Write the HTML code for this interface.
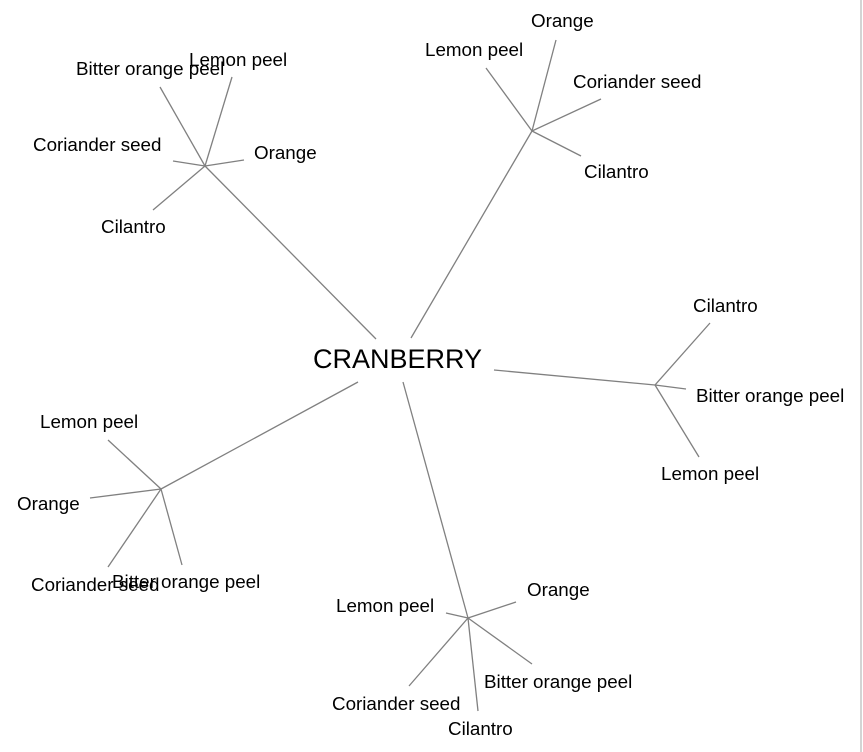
<!DOCTYPE html>
<html><head><meta charset="utf-8"><style>
html,body{margin:0;padding:0;background:#fff;}
svg{display:block;}
text{font-family:"Liberation Sans",Arial,sans-serif;font-size:18.8px;fill:#000;}
line{stroke:#808080;stroke-width:1.3;}
</style></head><body>
<svg width="863" height="752" viewBox="0 0 863 752">
<line x1="861" y1="0" x2="861" y2="752" style="stroke:#aaa;stroke-width:1"/>
<line x1="205" y1="166" x2="376" y2="339"/>
<line x1="205" y1="166" x2="160" y2="87"/>
<line x1="205" y1="166" x2="232" y2="77"/>
<line x1="205" y1="166" x2="244" y2="160"/>
<line x1="205" y1="166" x2="173" y2="161"/>
<line x1="205" y1="166" x2="153" y2="210"/>
<line x1="532" y1="131" x2="411" y2="338"/>
<line x1="532" y1="131" x2="486" y2="68"/>
<line x1="532" y1="131" x2="556" y2="40"/>
<line x1="532" y1="131" x2="601" y2="99"/>
<line x1="532" y1="131" x2="581" y2="156"/>
<line x1="655" y1="385" x2="494" y2="370"/>
<line x1="655" y1="385" x2="710" y2="323"/>
<line x1="655" y1="385" x2="686" y2="389"/>
<line x1="655" y1="385" x2="699" y2="457"/>
<line x1="161" y1="489" x2="358" y2="382"/>
<line x1="161" y1="489" x2="108" y2="440"/>
<line x1="161" y1="489" x2="90" y2="498"/>
<line x1="161" y1="489" x2="108" y2="567"/>
<line x1="161" y1="489" x2="182" y2="565"/>
<line x1="468" y1="618" x2="403" y2="382"/>
<line x1="468" y1="618" x2="516" y2="602"/>
<line x1="468" y1="618" x2="446" y2="613"/>
<line x1="468" y1="618" x2="532" y2="664"/>
<line x1="468" y1="618" x2="409" y2="686"/>
<line x1="468" y1="618" x2="478" y2="711"/>

<text x="313" y="368" style="font-size:27px">CRANBERRY</text>

<text x="76" y="75">Bitter orange peel</text>
<text x="189" y="66">Lemon peel</text>
<text x="33" y="151">Coriander seed</text>
<text x="254" y="159">Orange</text>
<text x="101" y="233">Cilantro</text>

<text x="531" y="27">Orange</text>
<text x="425" y="56">Lemon peel</text>
<text x="573" y="88">Coriander seed</text>
<text x="584" y="178">Cilantro</text>

<text x="693" y="312">Cilantro</text>
<text x="696" y="402">Bitter orange peel</text>
<text x="661" y="480">Lemon peel</text>

<text x="40" y="428">Lemon peel</text>
<text x="17" y="510">Orange</text>
<text x="31" y="591">Coriander seed</text>
<text x="112" y="588">Bitter orange peel</text>

<text x="527" y="596">Orange</text>
<text x="336" y="612">Lemon peel</text>
<text x="484" y="688">Bitter orange peel</text>
<text x="332" y="710">Coriander seed</text>
<text x="448" y="735">Cilantro</text>
</svg>
</body></html>
